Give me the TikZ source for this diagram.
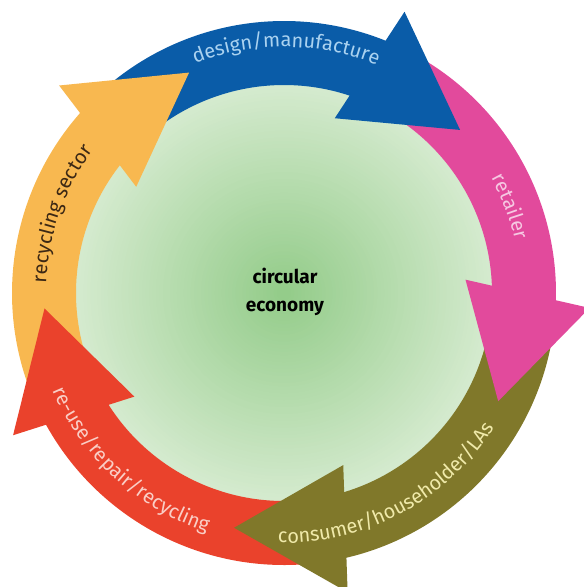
\documentclass[tikz,border=0pt]{standalone}
\usepackage{fontspec}
\setmainfont{Fira Sans}
\usetikzlibrary{decorations.text}
\definecolor{dmblue}{RGB}{10,92,168}
\definecolor{retpink}{RGB}{226,74,156}
\definecolor{conolive}{RGB}{128,120,42}
\definecolor{reured}{RGB}{234,66,44}
\definecolor{recorange}{RGB}{248,184,80}
\definecolor{dmbluetext}{RGB}{170,210,240}
\definecolor{retpinktext}{RGB}{246,200,226}
\definecolor{conolivetext}{RGB}{240,234,170}
\definecolor{reuredtext}{RGB}{250,206,198}
\definecolor{recorangetext}{RGB}{60,40,20}
\definecolor{greenin}{RGB}{148,204,138}
\definecolor{greenout}{RGB}{214,235,208}
\tikzset{
  ringtext/.style={decorate, decoration={text along path, text align=center, text={#1}}},
}
\newcommand{\arrowbody}[3]{\fill[#3] (#1:272pt) arc[start angle=#1, end angle=#2, radius=272pt] -- (#2:208pt) arc[start angle=#2, end angle=#1, radius=208pt] -- cycle;}
\newcommand{\arrowhead}[2]{\fill[#2] ({#1+24}:306pt) -- (#1:240pt) -- ({#1+31}:182pt) -- cycle;}
\begin{document}
\begin{tikzpicture}
\useasboundingbox (-284pt,-294pt) rectangle (300pt,293pt);
\foreach \k in {0,...,60}{
  \pgfmathtruncatemacro{\pc}{\k*100/60}
  \fill[greenin!\pc!greenout] (0,0) circle ({214*(1-\k/62)*1pt});
}
\arrowbody{131.3}{62.8}{dmblue}
\arrowbody{60.8}{-6.8}{retpink}
\arrowbody{-8.8}{-82}{conolive}
\arrowbody{276}{203.7}{reured}
\arrowbody{201.7}{133.3}{recorange}
\arrowhead{42.8}{dmblue}
\arrowhead{-26.8}{retpink}
\arrowhead{-102}{conolive}
\arrowhead{183.7}{reured}
\arrowhead{113.3}{recorange}
\path[ringtext={|\fontsize{20}{20}\selectfont\color{dmbluetext}|design/manufacture}] (129.5:246pt) arc[start angle=129.5, end angle=49.5, radius=246pt];
\path[ringtext={|\fontsize{20}{20}\selectfont\color{retpinktext}|retailer}] (50:237pt) arc[start angle=50, end angle=-8, radius=237pt];
\path[ringtext={|\fontsize{20}{20}\selectfont\color{conolivetext}|consumer/householder/LAs}] (-110:250pt) arc[start angle=-110, end angle=-14, radius=250pt];
\path[ringtext={|\fontsize{20}{20}\selectfont\color{reuredtext}|re-use/repair/recycling}] (180:251pt) arc[start angle=180, end angle=275, radius=251pt];
\path[ringtext={|\fontsize{20}{20}\selectfont\color{recorangetext}|recycling sector}] (200:238pt) arc[start angle=200, end angle=121, radius=238pt];
\node[font=\bfseries\fontsize{19}{28}\selectfont, align=center] (ce) at (1pt,1pt) {circular\\economy};
\end{tikzpicture}
\end{document}
